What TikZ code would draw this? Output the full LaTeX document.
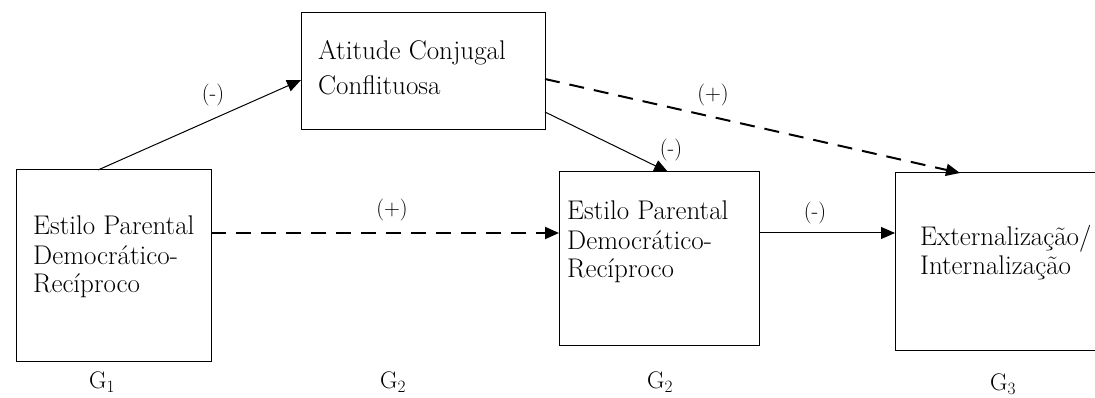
\documentclass[tikz,border=0pt]{standalone}
\usepackage{fontspec}
\usetikzlibrary{arrows.meta,calc}
\begin{document}
\begin{tikzpicture}[x=1pt,y=-1pt,
  box/.style={draw, line width=1pt, inner sep=0pt, outer sep=0pt, anchor=north west},
  txt/.style={inner sep=0pt, anchor=base west, font=\fontsize{27}{29}\selectfont},
  sign/.style={inner sep=0pt, font=\fontsize{22}{24}\selectfont},
  gen/.style={inner sep=0pt, font=\fontsize{24}{26}\selectfont},
  tip/.style={-{Triangle[length=14pt,width=12pt]}},
  solidarr/.style={tip, line width=1pt},
  dasharr/.style={tip, line width=2pt, dash pattern=on 15pt off 10pt}]
\useasboundingbox (0,0) rectangle (1095,398);
% boxes
\node[box, minimum width=195pt, minimum height=191pt] (A) at (16,170) {};
\node[box, minimum width=244pt, minimum height=117pt] (B) at (301,13) {};
\node[box, minimum width=200pt, minimum height=173pt] (C) at (559,172) {};
\node[box, minimum width=230pt, minimum height=177pt] (D) at (895,173) {};
% texts
\node[txt] (At) at (33,235) {\begin{tabular}[t]{@{}l@{}}Estilo Parental\\Democrático-\\Recíproco\end{tabular}};
\node[txt, font=\fontsize{27}{35}\selectfont] (Bt) at (318,60) {\begin{tabular}[t]{@{}l@{}}Atitude Conjugal\\Conflituosa\end{tabular}};
\node[txt] (Ct) at (567,220) {\begin{tabular}[t]{@{}l@{}}Estilo Parental\\Democrático-\\Recíproco\end{tabular}};
\node[txt] (Dt) at (920,245) {\begin{tabular}[t]{@{}l@{}}Externalização/\\Internalização\end{tabular}};
% connectors
\draw[solidarr] ($(A.north west)+(82,0)$) -- ($(B.north west)+(0,67)$);
\draw[solidarr] ($(B.north east)+(0,99)$) -- ($(C.north west)+(109,0)$);
\draw[dasharr] ($(B.north east)+(0,66)$) -- ($(D.north west)+(65,0)$);
\draw[dasharr] ($(A.north east)+(0,63)$) -- ($(C.north west)+(0,61)$);
\draw[solidarr] ($(C.north east)+(0,61)$) -- ($(D.north west)+(0,60)$);
% signs
\node[sign] (s1) at (213,95) {(-)};
\node[sign] (s2) at (713,95) {(+)};
\node[sign] (s3) at (671,150) {(-)};
\node[sign] (s4) at (392,210) {(+)};
\node[sign] (s5) at (815,213) {(-)};
% generations
\node[gen] (g1) at (102,382) {G$_1$};
\node[gen] (g2) at (393,382) {G$_2$};
\node[gen] (g3) at (660,382) {G$_2$};
\node[gen] (g4) at (1003,384) {G$_3$};
\end{tikzpicture}
\end{document}
